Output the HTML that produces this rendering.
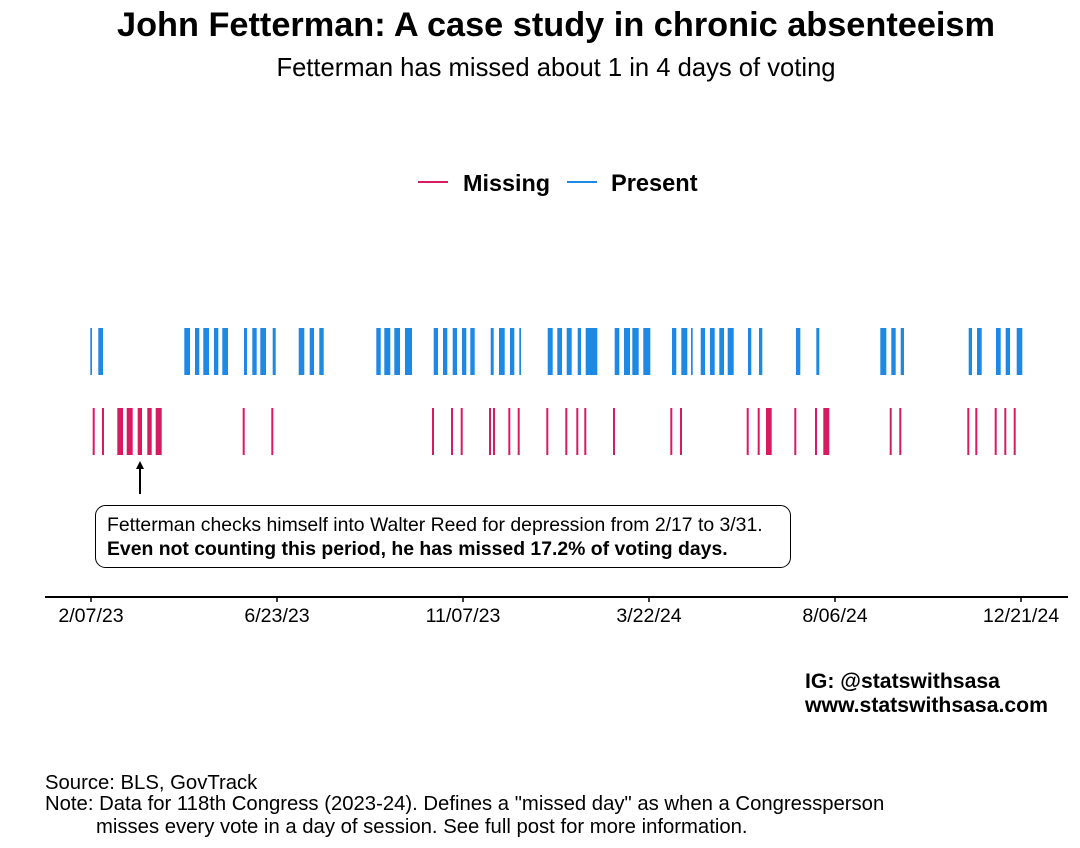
<!DOCTYPE html>
<html><head><meta charset="utf-8"><style>
body{margin:0;background:#fff;}
svg{display:block;font-family:"Liberation Sans",Arial,sans-serif;}
</style></head><body>
<svg width="1080" height="848" viewBox="0 0 1080 848">
<rect width="1080" height="848" fill="#fff"/>
<text x="556" y="36" text-anchor="middle" font-size="34.3" font-weight="bold" fill="#000">John Fetterman: A case study in chronic absenteeism</text>
<text x="556" y="76" text-anchor="middle" font-size="25.6" fill="#000">Fetterman has missed about 1 in 4 days of voting</text>
<line x1="418" y1="182" x2="448" y2="182" stroke="#d81b60" stroke-width="2"/>
<text x="463" y="191" font-size="23.4" font-weight="bold">Missing</text>
<line x1="567" y1="182" x2="597" y2="182" stroke="#1e88e5" stroke-width="2"/>
<text x="611" y="191" font-size="23.6" font-weight="bold">Present</text>
<g fill="#1e88e5">
<rect x="90.3" y="328" width="1.7" height="47"/><rect x="98.3" y="328" width="4.7" height="47"/>
<rect x="184.3" y="328" width="5.7" height="47"/><rect x="195" y="328" width="4.3" height="47"/>
<rect x="203.3" y="328" width="5.7" height="47"/><rect x="214" y="328" width="4.3" height="47"/>
<rect x="222.3" y="328" width="5.7" height="47"/><rect x="244" y="328" width="3" height="47"/>
<rect x="252.3" y="328" width="4.4" height="47"/><rect x="260.3" y="328" width="5.7" height="47"/>
<rect x="272.7" y="328" width="3" height="47"/><rect x="298.7" y="328" width="5.6" height="47"/>
<rect x="309.7" y="328" width="4.3" height="47"/><rect x="319.3" y="328" width="4.4" height="47"/>
<rect x="376.3" y="328" width="4.4" height="47"/><rect x="384.3" y="328" width="6" height="47"/>
<rect x="394.3" y="328" width="5.7" height="47"/><rect x="405" y="328" width="7" height="47"/>
<rect x="433.7" y="328" width="4.3" height="47"/><rect x="443" y="328" width="4.3" height="47"/>
<rect x="452.7" y="328" width="4.3" height="47"/><rect x="462" y="328" width="4.3" height="47"/>
<rect x="470.3" y="328" width="4.4" height="47"/><rect x="490.7" y="328" width="3" height="47"/>
<rect x="499" y="328" width="5.7" height="47"/><rect x="510" y="328" width="4.3" height="47"/>
<rect x="519.3" y="328" width="1.7" height="47"/><rect x="547.7" y="328" width="5" height="47"/>
<rect x="557.3" y="328" width="4.7" height="47"/><rect x="566.7" y="328" width="5" height="47"/>
<rect x="577.7" y="328" width="3.3" height="47"/><rect x="585.7" y="328" width="11.6" height="47"/>
<rect x="614.7" y="328" width="4.6" height="47"/><rect x="624" y="328" width="6" height="47"/>
<rect x="632.3" y="328" width="6.4" height="47"/><rect x="643.3" y="328" width="7" height="47"/>
<rect x="672" y="328" width="4.3" height="47"/><rect x="681.3" y="328" width="6" height="47"/>
<rect x="691" y="328" width="1.7" height="47"/><rect x="700.7" y="328" width="4.3" height="47"/>
<rect x="710" y="328" width="4.7" height="47"/><rect x="719.3" y="328" width="4.7" height="47"/>
<rect x="727.7" y="328" width="6" height="47"/><rect x="748" y="328" width="3.3" height="47"/>
<rect x="759" y="328" width="3.3" height="47"/><rect x="796" y="328" width="4.3" height="47"/>
<rect x="816.3" y="328" width="3" height="47"/><rect x="880.3" y="328" width="6" height="47"/>
<rect x="891.3" y="328" width="4.4" height="47"/><rect x="900.7" y="328" width="3.3" height="47"/>
<rect x="968.7" y="328" width="3.3" height="47"/><rect x="977" y="328" width="4.7" height="47"/>
<rect x="996" y="328" width="4.7" height="47"/><rect x="1005.7" y="328" width="4.3" height="47"/>
<rect x="1016.7" y="328" width="5.6" height="47"/>
</g>
<g fill="#d81b60">
<rect x="92.7" y="408" width="2" height="47"/><rect x="102" y="408" width="2" height="47"/>
<rect x="117.3" y="408" width="5.7" height="47"/><rect x="126.7" y="408" width="6" height="47"/>
<rect x="137.7" y="408" width="4.3" height="47"/><rect x="147.3" y="408" width="4.4" height="47"/>
<rect x="155.7" y="408" width="6" height="47"/><rect x="242.7" y="408" width="2" height="47"/>
<rect x="271.3" y="408" width="2" height="47"/><rect x="432" y="408" width="2" height="47"/>
<rect x="451" y="408" width="2" height="47"/><rect x="460.7" y="408" width="2" height="47"/>
<rect x="489" y="408" width="2" height="47"/><rect x="493" y="408" width="2" height="47"/>
<rect x="508.3" y="408" width="2" height="47"/><rect x="517.7" y="408" width="2" height="47"/>
<rect x="546.3" y="408" width="2" height="47"/><rect x="565.3" y="408" width="2" height="47"/>
<rect x="576.3" y="408" width="2" height="47"/><rect x="584.3" y="408" width="2" height="47"/>
<rect x="613" y="408" width="2" height="47"/><rect x="670.3" y="408" width="2" height="47"/>
<rect x="680" y="408" width="2" height="47"/><rect x="746.7" y="408" width="2" height="47"/>
<rect x="757.7" y="408" width="2" height="47"/><rect x="766" y="408" width="5.7" height="47"/>
<rect x="794.3" y="408" width="2" height="47"/><rect x="815" y="408" width="2" height="47"/>
<rect x="823.3" y="408" width="6" height="47"/><rect x="889.7" y="408" width="2" height="47"/>
<rect x="899.3" y="408" width="2" height="47"/><rect x="967.3" y="408" width="2" height="47"/>
<rect x="975.3" y="408" width="2" height="47"/><rect x="994.7" y="408" width="2" height="47"/>
<rect x="1004.3" y="408" width="2" height="47"/><rect x="1013.7" y="408" width="2" height="47"/>
</g>
<line x1="140" y1="494" x2="140" y2="466" stroke="#000" stroke-width="2"/>
<polygon points="140,461 136,469 144,469" fill="#000"/>
<rect x="95.5" y="505.5" width="695" height="62" rx="10" fill="#fff" stroke="#000" stroke-width="1"/>
<text x="107" y="531" font-size="19.4">Fetterman checks himself into Walter Reed for depression from 2/17 to 3/31.</text>
<text x="107" y="555" font-size="19.4" font-weight="bold">Even not counting this period, he has missed 17.2% of voting days.</text>
<line x1="45" y1="597" x2="1068" y2="597" stroke="#000" stroke-width="2"/>
<g stroke="#000" stroke-width="1.5">
<line x1="91" y1="597" x2="91" y2="602"/><line x1="277" y1="597" x2="277" y2="602"/>
<line x1="463" y1="597" x2="463" y2="602"/><line x1="649" y1="597" x2="649" y2="602"/>
<line x1="835" y1="597" x2="835" y2="602"/><line x1="1021" y1="597" x2="1021" y2="602"/>
</g>
<g font-size="19.6" text-anchor="middle">
<text x="91" y="622">2/07/23</text><text x="277" y="622">6/23/23</text>
<text x="463" y="622">11/07/23</text><text x="649" y="622">3/22/24</text>
<text x="835" y="622">8/06/24</text><text x="1021" y="622">12/21/24</text>
</g>
<text x="805" y="688" font-size="21.2" font-weight="bold">IG: @statswithsasa</text>
<text x="805" y="712" font-size="21.2" font-weight="bold">www.statswithsasa.com</text>
<text x="45" y="789" font-size="20.3">Source: BLS, GovTrack</text>
<text x="45" y="810" font-size="20.3">Note: Data for 118th Congress (2023-24). Defines a "missed day" as when a Congressperson</text>
<text x="96" y="833" font-size="20.3">misses every vote in a day of session. See full post for more information.</text>
</svg>
</body></html>
